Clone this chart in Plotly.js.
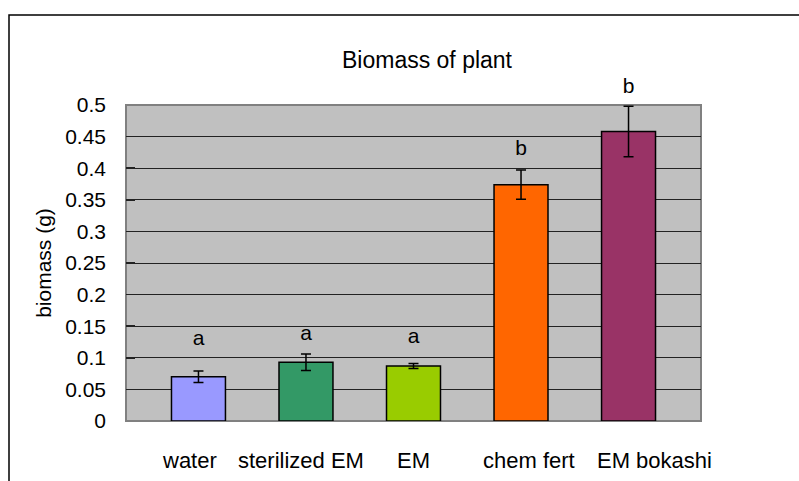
<!DOCTYPE html>
<html>
<head>
<meta charset="utf-8">
<script src="https://cdn.plot.ly/plotly-3.0.1.min.js"></script>
<style>html,body{margin:0;padding:0;background:#fff;}#chart{width:799px;height:481px;}</style>
</head>
<body>
<div id="chart"></div>
<script>
// Data
const categories = ["water", "sterilized EM", "EM", "chem fert", "EM bokashi"];
const biomass = [0.070, 0.093, 0.087, 0.374, 0.458];
const errors = [0.009, 0.013, 0.004, 0.023, 0.040];
const groupLetters = ["a", "a", "a", "b", "b"];
const letterLevels = [0.129, 0.137, 0.131, 0.429, 0.527];
const barColors = ["#9999FF", "#339966", "#99CC00", "#FF6600", "#993366"];
const yTickVals = [0, 0.05, 0.1, 0.15, 0.2, 0.25, 0.3, 0.35, 0.4, 0.45, 0.5];
const yTickText = ["0", "0.05", "0.1", "0.15", "0.2", "0.25", "0.3", "0.35", "0.4", "0.45", "0.5"];
const labelShift = [-9, -5, 0, 8, 26];

const FONT = "Liberation Sans, Arial, sans-serif";

// layout geometry
const W = 799, H = 481, ML = 126, MR = 98, MT = 70, MB = 60;
const plotH = H - MT - MB;          // full plotting height
const axisH = 316;                  // height of the grey value area
const dom = axisH / plotH;
const yMax = 0.5;

const bars = {
  type: "bar",
  x: categories,
  y: biomass,
  width: 0.502,
  marker: { color: barColors, line: { color: "#000", width: 1.5 } },
  error_y: { type: "data", array: errors, visible: true, color: "#000", thickness: 1.5, width: 5 },
  hoverinfo: "none"
};

// letters on a taller, hidden twin axis with identical scale
const letters = {
  type: "scatter",
  mode: "text",
  x: categories,
  y: letterLevels,
  yaxis: "y2",
  text: groupLetters,
  textposition: "middle center",
  textfont: { family: FONT, size: 21, color: "#000" },
  cliponaxis: false,
  hoverinfo: "none"
};

const annotations = categories.map((c, i) => ({
  x: c, y: 0, xref: "x", yref: "paper", text: c,
  showarrow: false, xanchor: "center", yanchor: "middle", xshift: labelShift[i], yshift: -39,
  font: { family: FONT, size: 22, color: "#000" }
}));

const layout = {
  width: W, height: H,
  margin: { l: ML, r: MR, t: MT, b: MB },
  paper_bgcolor: "#fff",
  plot_bgcolor: "rgba(0,0,0,0)",
  showlegend: false,
  title: {
    text: "Biomass of plant",
    font: { family: FONT, size: 23, color: "#000" },
    x: 0.5235, xref: "paper", xanchor: "center",
    y: 1 - 60 / H, yref: "container", yanchor: "middle"
  },
  xaxis: {
    type: "category",
    range: [-0.674, 4.674],
    showticklabels: false,
    ticks: "",
    showgrid: false,
    zeroline: false,
    showline: false,
    fixedrange: true
  },
  yaxis: {
    domain: [0, dom],
    range: [0, yMax],
    tickvals: yTickVals,
    ticktext: yTickText,
    ticks: "inside", ticklen: 9, tickcolor: "#222", tickwidth: 1.5,
    ticklabelstandoff: 19,
    tickfont: { family: FONT, size: 21, color: "#000" },
    showgrid: true, gridcolor: "#222", gridwidth: 1,
    zeroline: false,
    showline: false,
    title: { text: "biomass (g)", font: { family: FONT, size: 21, color: "#000" }, standoff: 7 },
    fixedrange: true
  },
  yaxis2: {
    domain: [0, 1],
    anchor: "x",
    range: [0, yMax / dom],
    visible: false,
    showgrid: false,
    zeroline: false,
    fixedrange: true
  },
  annotations: annotations,
  shapes: [
    {
      type: "rect", xref: "x domain", yref: "y domain",
      x0: 0, x1: 1, y0: 0, y1: 1,
      fillcolor: "#C0C0C0", line: { color: "#808080", width: 2 }, layer: "below"
    },
    {
      type: "rect", xref: "paper", yref: "paper",
      x0: (9 - ML) / (W - ML - MR), x1: (820 - ML) / (W - ML - MR),
      y0: (H - MB - 500) / plotH, y1: (H - MB - 15) / plotH,
      line: { color: "#000", width: 1.5 }, fillcolor: "rgba(0,0,0,0)", layer: "below"
    }
  ]
};

Plotly.newPlot("chart", [bars, letters], layout, { displayModeBar: false, staticPlot: true });
</script>
</body>
</html>
